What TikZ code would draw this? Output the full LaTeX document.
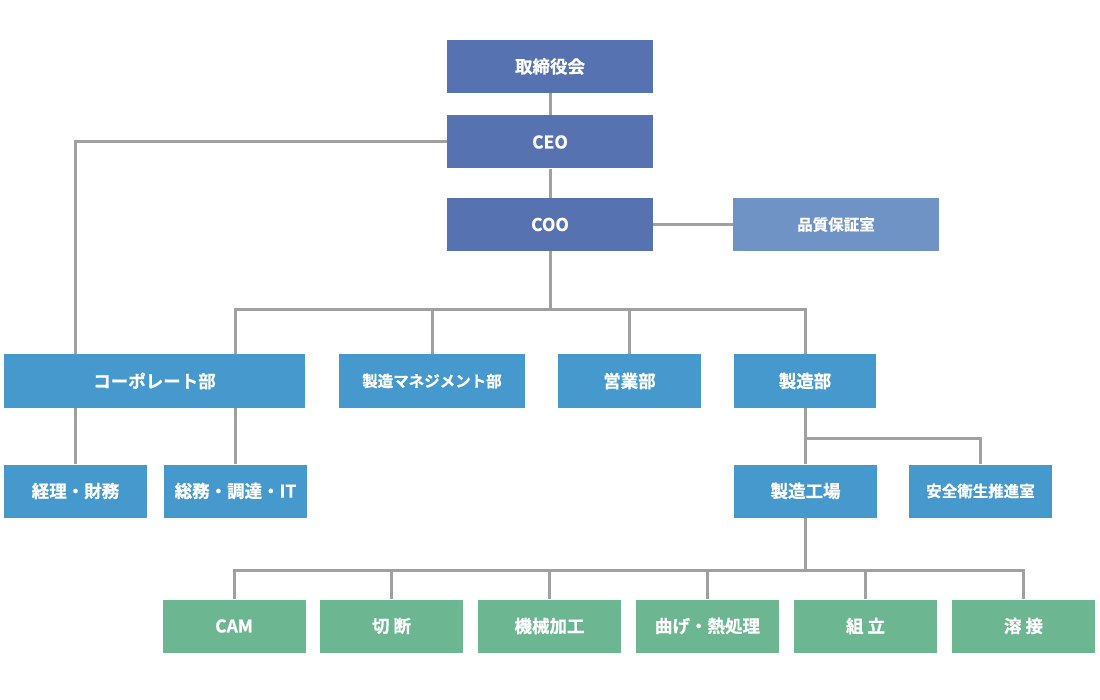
\documentclass[tikz,border=0pt]{standalone}
\usepackage{fontspec}
\newfontfamily\jp[BoldFont={Noto Sans CJK JP Bold},BoldFeatures={FakeBold=0.6}]{Noto Sans CJK JP}
\definecolor{darkb}{HTML}{5672B0}
\definecolor{lightb}{HTML}{7093C6}
\definecolor{midb}{HTML}{4699CC}
\definecolor{grn}{HTML}{6CB692}
\definecolor{ln}{HTML}{A0A0A0}
\tikzset{
  box/.style={rectangle, inner sep=0pt, text=white, minimum height=53pt,
    font=\jp\bfseries\fontsize{17.5}{20}\selectfont},
  smalltext/.style={font=\jp\bfseries\fontsize{15.5}{18}\selectfont},
  topbox/.style={box, fill=darkb, minimum width=206pt},
  midbox/.style={box, fill=midb},
  grnbox/.style={box, fill=grn, minimum width=143pt},
  conn/.style={draw=ln, line width=3pt}
}
\begin{document}
\begin{tikzpicture}[x=1pt,y=-1pt]
\useasboundingbox (0,0) rectangle (1100,700);
\fill[white] (0,0) rectangle (1100,700);
% top
\node[topbox] (board) at (550,66.5) {取締役会};
\node[topbox] (ceo) at (550,142) {CEO};
\node[topbox] (coo) at (550,224.5) {COO};
\node[box, smalltext, fill=lightb, minimum width=206pt] (qa) at (836,224.5) {品質保証室};
% row 2
\node[midbox, minimum width=301pt] (corp) at (154.5,381) {コーポレート部};
\node[midbox, smalltext, minimum width=186pt] (mgmt) at (432,381) {製造マネジメント部};
\node[midbox, minimum width=143pt] (sales) at (629.5,381) {営業部};
\node[midbox, minimum width=142pt] (mfg) at (805,381) {製造部};
% row 3
\node[midbox, minimum width=143pt] (acct) at (75.5,491) {経理・財務};
\node[midbox, minimum width=143pt] (ga) at (235.5,491) {総務・調達・IT};
\node[midbox, minimum width=143pt] (plant) at (805.5,491) {製造工場};
\node[midbox, smalltext, minimum width=143pt] (safety) at (980.5,491) {安全衛生推進室};
% row 4
\node[grnbox] (cam) at (234,626) {CAM};
\node[grnbox] (cut) at (391.5,626) {切 断};
\node[grnbox] (mach) at (549.5,626) {機械加工};
\node[grnbox] (bend) at (707.5,626) {曲げ・熱処理};
\node[grnbox] (asm) at (865.5,626) {組 立};
\node[grnbox] (weld) at (1023.5,626) {溶 接};
% bus coordinates
\coordinate (bus1) at (550,310);
\coordinate (bus2) at (805,438);
\coordinate (bus3) at (805,570);
% connectors
\draw[conn] (board) -- (ceo);
\draw[conn] (ceo) -- (coo);
\draw[conn] (coo) -- (qa);
\draw[conn] (ceo.west) -| (acct.north |- corp.north);
\draw[conn] (coo.south) -- (bus1);
\draw[conn] (ga.north |- corp.north) |- (mfg.north |- bus1) -- (mfg.north);
\draw[conn] (mgmt.north) -- (mgmt.north |- bus1);
\draw[conn] (sales.north) -- (sales.north |- bus1);
\draw[conn] (acct.north |- corp.south) -- (acct.north);
\draw[conn] (ga.north |- corp.south) -- (ga.north);
\draw[conn] (mfg.south) -- (mfg.south |- plant.north);
\draw[conn] (mfg.south |- bus2) -| (safety.north);
\draw[conn] (plant.south) -- (plant.south |- bus3);
\draw[conn] (cam.north) |- (bus3) -| (weld.north);
\draw[conn] (cut.north) -- (cut.north |- bus3);
\draw[conn] (mach.north) -- (mach.north |- bus3);
\draw[conn] (bend.north) -- (bend.north |- bus3);
\draw[conn] (asm.north) -- (asm.north |- bus3);
\end{tikzpicture}
\end{document}
